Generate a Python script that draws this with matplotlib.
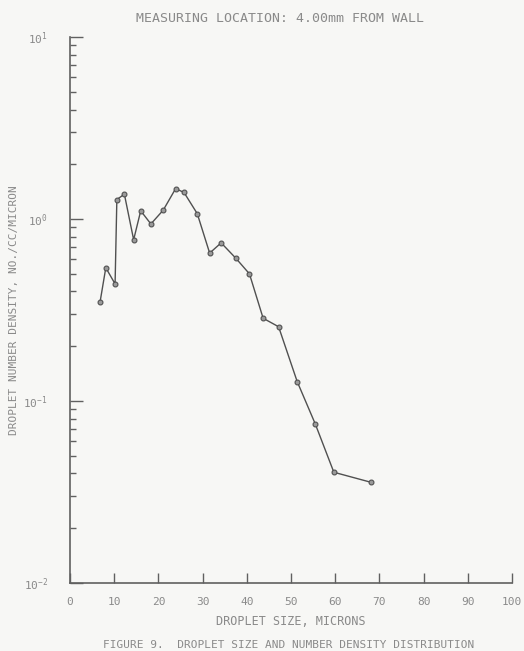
import matplotlib
matplotlib.use("Agg")
import matplotlib.pyplot as plt
from matplotlib.ticker import LogLocator, FixedLocator, NullFormatter

droplet_size = [6.8, 8.1, 10.2, 10.6, 12.3, 14.4, 16.0, 18.3, 21.1, 23.9, 25.8, 28.8,
                31.6, 34.2, 37.5, 40.6, 43.7, 47.2, 51.4, 55.5, 59.7, 68.2]
number_density = [0.35, 0.54, 0.44, 1.28, 1.37, 0.77, 1.11, 0.94, 1.12, 1.47, 1.40, 1.07,
                  0.65, 0.74, 0.61, 0.50, 0.285, 0.256, 0.128, 0.0748, 0.0406, 0.0357]
x_ticks = [0, 10, 20, 30, 40, 50, 60, 70, 80, 90, 100]

bg = "#f7f7f5"
line_c = "#505050"
text_c = "#8a8a8a"
font = "DejaVu Sans Mono"

fig = plt.figure(figsize=(5.24, 6.51), dpi=100, facecolor=bg)
ax = fig.add_axes([0.1336, 0.1045, 0.8434, 0.8385], facecolor=bg)

ax.plot(droplet_size, number_density, color=line_c, lw=1.0, marker="o", ms=3.5,
        mfc="#9a9a9a", mec=line_c, mew=0.8)

ax.set_yscale("log")
ax.set_xlim(0, 100)
ax.set_ylim(1e-2, 1e1)

for s in ["top", "right"]:
    ax.spines[s].set_visible(False)
for s in ["left", "bottom"]:
    ax.spines[s].set_color("#606060")
    ax.spines[s].set_linewidth(1.2)

ax.xaxis.set_major_locator(FixedLocator(x_ticks))
ax.tick_params(axis="x", direction="in", length=7, width=1.0, color="#606060",
               labelsize=8, labelcolor=text_c, pad=10)
ax.tick_params(axis="y", which="major", direction="in", length=9, width=1.0, color="#606060",
               labelsize=8, labelcolor=text_c, pad=16)
ax.tick_params(axis="y", which="minor", direction="in", length=4, width=1.0, color="#606060")
ax.yaxis.set_minor_locator(LogLocator(base=10, subs=range(2, 10)))
ax.yaxis.set_minor_formatter(NullFormatter())

for lab in ax.get_xticklabels() + ax.get_yticklabels():
    lab.set_family(font)

ax.set_xlabel("DROPLET SIZE, MICRONS", family=font, color=text_c, fontsize=8.5, labelpad=6)
ax.set_ylabel("DROPLET NUMBER DENSITY, NO./CC/MICRON", family=font, color=text_c,
              fontsize=8, labelpad=3)
fig.text(0.535, 0.972, "MEASURING LOCATION: 4.00mm FROM WALL", family=font, color=text_c,
         fontsize=9.5, ha="center", va="center")
fig.text(0.55, 0.002, "FIGURE 9.  DROPLET SIZE AND NUMBER DENSITY DISTRIBUTION", family=font,
         color=text_c, fontsize=8, ha="center", va="bottom")

fig.savefig("out.png", dpi=100, facecolor=bg)
